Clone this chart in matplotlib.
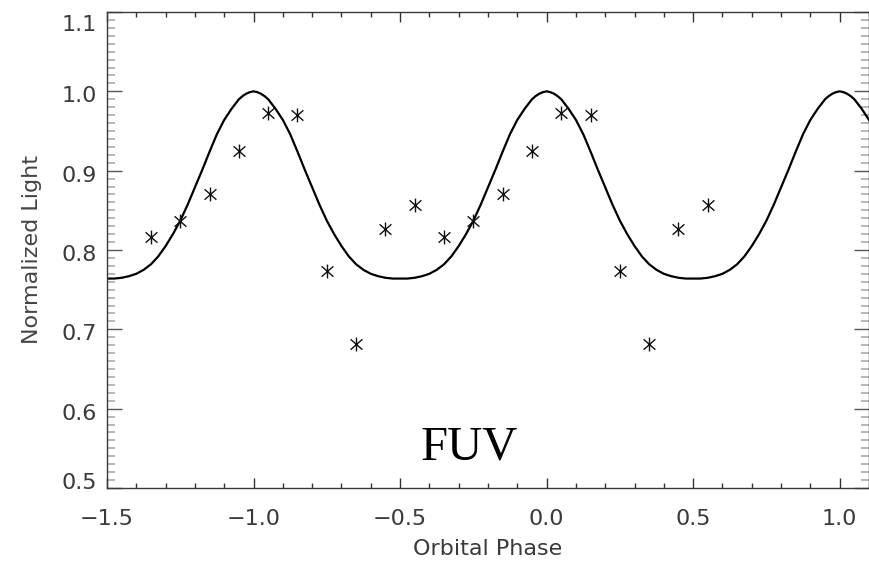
import matplotlib as mpl
mpl.use("Agg")
import matplotlib.pyplot as plt
from matplotlib.path import Path
from matplotlib.ticker import MultipleLocator
from matplotlib.transforms import ScaledTranslation
import numpy as np


# observed FUV points (orbital phase, normalized light)
OBS_PHASE = [-1.35, -1.25, -1.15, -1.05, -0.95, -0.85, -0.75, -0.65, -0.55, -0.45,
             -0.35, -0.25, -0.15, -0.05, 0.05, 0.15, 0.25, 0.35, 0.45, 0.55]
OBS_LIGHT = [0.816, 0.837, 0.871, 0.925, 0.973, 0.970, 0.773, 0.681, 0.826, 0.857,
             0.816, 0.837, 0.871, 0.925, 0.973, 0.970, 0.773, 0.681, 0.826, 0.857]

# model curve, read as a half profile from a maximum out to the minimum
PROFILE_OFFSET = [0.0, 0.0125, 0.025, 0.0375, 0.05, 0.075, 0.10, 0.125, 0.15, 0.175, 0.20,
                  0.225, 0.25, 0.275, 0.30, 0.325, 0.35, 0.375, 0.40, 0.425, 0.45, 0.475, 0.50]
PROFILE_LIGHT = [1.000, 0.999, 0.997, 0.994, 0.990, 0.978, 0.964, 0.946, 0.924, 0.901, 0.879,
                 0.857, 0.837, 0.820, 0.805, 0.792, 0.782, 0.775, 0.770, 0.767, 0.765, 0.764,
                 0.764]
MODEL_PEAKS = [-1.0, 0.0, 1.0]

Y_TICKS = [0.5, 0.6, 0.7, 0.8, 0.9, 1.0, 1.1]
X_TICKS = [-1.5, -1.0, -0.5, 0.0, 0.5, 1.0]


def model_curve():
    off = np.array(PROFILE_OFFSET)
    val = np.array(PROFILE_LIGHT)
    rel = np.concatenate([-off[::-1], off[1:]])
    one = np.concatenate([val[::-1], val[1:]])
    xs, ys = [], []
    for i, peak in enumerate(MODEL_PEAKS):
        start = 0 if i == 0 else 1
        xs.append(peak + rel[start:])
        ys.append(one[start:])
    return np.concatenate(xs), np.concatenate(ys)


def main() -> None:
    mpl.rcParams.update(
        {
            "font.family": ["DejaVu Sans"],
            "font.size": 16,
            "axes.linewidth": 1.0,
            "axes.edgecolor": "#3a3a3a",
            "xtick.direction": "in",
            "ytick.direction": "in",
            "xtick.top": True,
            "ytick.right": True,
        }
    )

    fig = plt.figure(figsize=(8.69, 5.64), dpi=100)
    ax = fig.add_axes([107 / 869, 76 / 564, 762 / 869, 476 / 564])

    mx, my = model_curve()
    ax.plot(mx, my, color="black", linewidth=1.6, solid_joinstyle="round")

    star = Path(
        [(0, -1), (0, 1), (-0.85, -0.75), (0.85, 0.75), (-0.85, 0.75), (0.85, -0.75)],
        [Path.MOVETO, Path.LINETO] * 3,
    )
    ax.plot(OBS_PHASE, OBS_LIGHT, linestyle="none", marker=star, markersize=10,
            markeredgewidth=1.0, markeredgecolor="#111111", markerfacecolor="none")

    ax.text(0.412, 0.059, "FUV", transform=ax.transAxes, ha="left", va="baseline",
            fontsize=35, family=["Liberation Serif", "DejaVu Serif"], color="black")

    ax.set_xlim(-1.5, 1.1)
    ax.set_ylim(0.5, 1.1)
    ax.set_xticks(X_TICKS)
    ax.set_xticklabels([f"{v:.1f}".replace("-", "\u2212") for v in X_TICKS])
    ax.xaxis.set_minor_locator(MultipleLocator(0.1))
    ax.set_yticks(Y_TICKS)
    ax.set_yticklabels([f"{v:.1f}" for v in Y_TICKS])
    ax.yaxis.set_minor_locator(MultipleLocator(0.01))

    ax.tick_params(axis="x", which="major", length=7.2, width=1.0, color="#333333",
                   pad=15, labelsize=16, labelcolor="#3a3a3a")
    ax.tick_params(axis="x", which="minor", length=3.4, width=1.0, color="#333333")
    ax.tick_params(axis="y", which="major", length=10.8, width=1.0, color="#555555",
                   pad=7, labelsize=16, labelcolor="#3a3a3a")
    ax.tick_params(axis="y", which="minor", length=5.5, width=1.2, color="#aaaaaa")

    # IDL nudges the end labels inward
    shifts = {0.5: 5.0, 1.1: -8.0}
    for value, tick in zip(Y_TICKS, ax.yaxis.get_major_ticks()):
        dy = shifts.get(value, -2.2) / 72
        tick.label1.set_transform(tick.label1.get_transform()
                                  + ScaledTranslation(0, dy, fig.dpi_scale_trans))

    ax.set_xlabel("Orbital Phase", fontsize=16, color="#3a3a3a")
    ax.xaxis.set_label_coords(0.5, -0.108)
    ax.set_ylabel("Normalized Light", fontsize=16, color="#444444")
    ax.yaxis.set_label_coords(-0.085, 0.5)

    fig.savefig("out.png", dpi=100)
    plt.close(fig)


if __name__ == "__main__":
    main()
